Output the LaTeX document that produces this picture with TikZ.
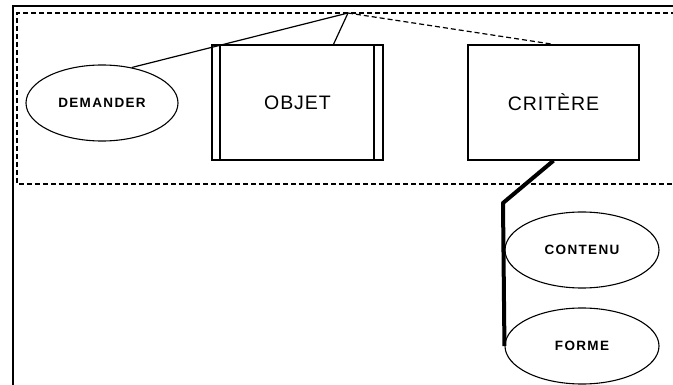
\documentclass[tikz,border=0pt]{standalone}
\usepackage{fontspec}
\setmainfont{Liberation Sans}
\newfontfamily\labelfont[LetterSpace=10]{Liberation Sans}
\newfontfamily\boxfont[LetterSpace=5]{Liberation Sans}
\usetikzlibrary{shapes.geometric}

\begin{document}
\begin{tikzpicture}[
  x=1pt, y=-1pt,
  oval/.style={ellipse, draw, line width=1.1pt, inner sep=0pt,
               minimum width=152pt, minimum height=76pt,
               font=\labelfont\fontsize{13.5}{15}\selectfont\bfseries},
  box/.style={rectangle, draw, line width=1.3pt, inner sep=0pt,
              minimum width=171pt, minimum height=115pt,
              font=\boxfont\fontsize{19.5}{22}\selectfont},
  link/.style={line width=1.2pt},
  dashlink/.style={link, dashed, dash pattern=on 5pt off 3pt},
  arm/.style={line width=4pt, line join=round},
]
  \useasboundingbox (0,0) rectangle (673,385);
  \clip (0,0) rectangle (673,385);

  \draw[line width=1.6pt] (13,700) -- (13,6) -- (700,6);
  \draw[dashlink] (700,13) -- (17,13) -- (17,184) -- (700,184);

  \node[oval] (demander) at (102,103) {DEMANDER};
  \node[box]  (objet)    at (297.5,102.5) {OBJET};
  \node[box]  (critere)  at (553.5,102.5) {CRITÈRE};
  \node[oval, minimum width=154pt] (contenu) at (582,250) {CONTENU};
  \node[oval, minimum width=154pt] (forme)   at (582,346) {FORME};

  \draw[line width=2pt] ([xshift=9pt]objet.north west) -- ([xshift=9pt]objet.south west);
  \draw[line width=2pt] ([xshift=-10pt]objet.north east) -- ([xshift=-10pt]objet.south east);

  \coordinate (apex) at (348,13);
  \coordinate (knee) at (503,203);

  \draw[link]     (demander.50) -- (apex);
  \draw[link]     ([xshift=36pt]objet.north) -- (apex);
  \draw[dashlink] (apex) -- (critere.north);
  \draw[arm] (critere.south) -- (knee) -- (forme.west);
\end{tikzpicture}
\end{document}
